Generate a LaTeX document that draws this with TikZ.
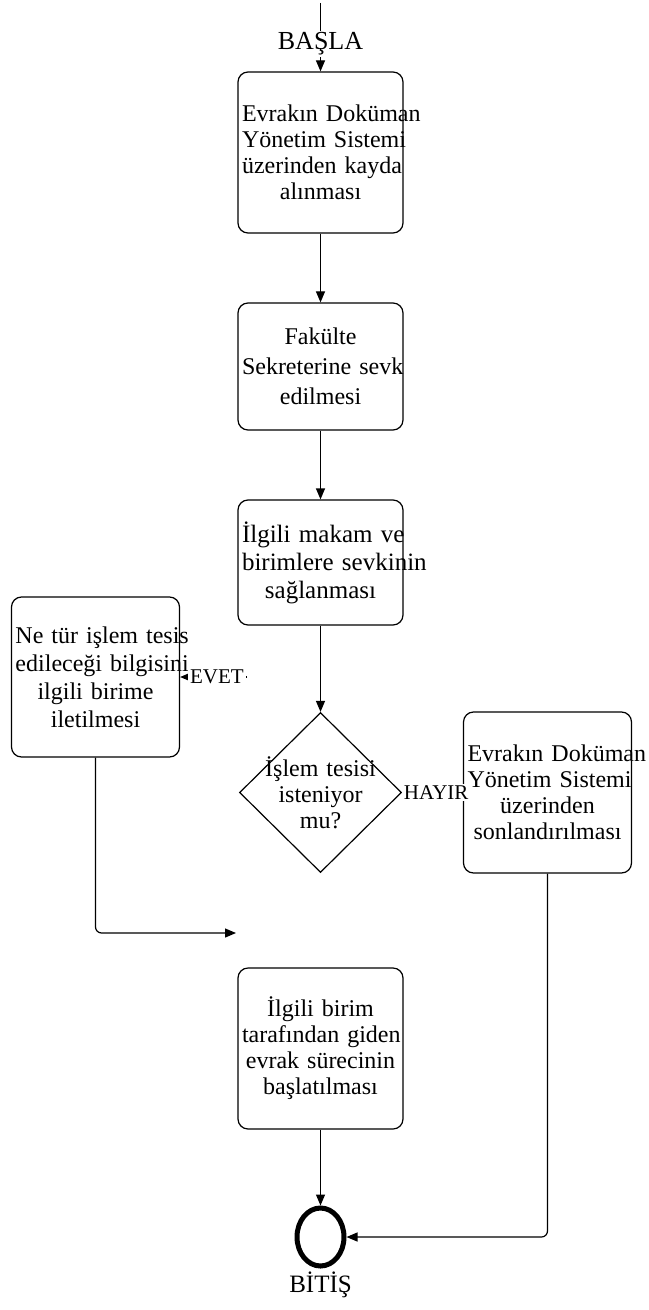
\documentclass[tikz,border=0pt]{standalone}
\usepackage{fontspec}
\setmainfont{Liberation Serif}
\usetikzlibrary{shapes.geometric,arrows.meta,positioning}
\hyphenpenalty=10000
\exhyphenpenalty=10000
\tikzstyle{process} = [rectangle, rounded corners=5pt, text width=78.5pt, inner xsep=2pt, align=center, draw=black, line width=0.6pt, font=\fontsize{12}{13}\selectfont]
\tikzstyle{decision} = [diamond, aspect=1, minimum width=81pt, minimum height=80pt, text width=56pt, inner sep=-4pt, align=center, draw=black, line width=0.6pt, font=\fontsize{12}{13}\selectfont]
\tikzstyle{stop} = [ellipse, minimum width=23.5pt, minimum height=29pt, draw=black, line width=2.5pt]
\tikzstyle{answer} = [fill=white, inner sep=1pt, font=\fontsize{10.5}{12}\selectfont]
\tikzstyle{arrow} = [line width=0.6pt,->,>={Triangle[length=5.5pt,width=4.5pt]}]

\begin{document}
\begin{tikzpicture}[node distance=100pt]
\useasboundingbox (0,0) rectangle (324pt,-655pt);

\node (box1) [process, minimum height=80.5pt] at (160.25pt,-76.25pt) {Evrakın~Doküman\\ Yönetim~Sistemi\\ üzerinden~kayda\\ alınması};

\node (box2) [process, below of=box1, node distance=107pt, minimum height=63.5pt, font=\fontsize{12}{15}\selectfont] {Fakülte\\ Sekreterine~sevk\\ edilmesi};

\node (box3) [process, below of=box2, node distance=98pt, minimum height=62.5pt, font=\fontsize{12.5}{14}\selectfont] {İlgili~makam~ve\\ birimlere~sevkinin\\ sağlanması};

\node (dec) [decision, below of=box3, node distance=115pt] {İşlem~tesisi\\ isteniyor\\ mu?};

\node (leftbox) [process, left of=dec, node distance=112.5pt, yshift=57.75pt, text width=80pt, minimum height=80pt, font=\fontsize{12}{14}\selectfont] {Ne~tür~işlem~tesis\\ edileceği~bilgisini\\ ilgili~birime\\ iletilmesi};

\node (rightbox) [process, right of=dec, node distance=113.5pt, text width=80pt, minimum height=80.5pt] {Evrakın~Doküman\\ Yönetim~Sistemi\\ üzerinden\\ sonlandırılması};

\node (box4) [process, below of=dec, node distance=128pt, minimum height=80.5pt] {İlgili~birim\\ tarafından~giden\\ evrak~sürecinin\\ başlatılması};

\node (end) [stop, below of=box4, node distance=94.25pt] {};
\node (endtext) [below of=end, node distance=24pt, font=\fontsize{12.5}{14}\selectfont] {BİTİŞ};

\coordinate (top) at (160.25pt,-1.5pt);
\coordinate (evetstart) at (123.5pt,-338.5pt);
\coordinate (yesend) at (118pt,-466.5pt);

\draw [arrow] (top) -- node[pos=0.6, fill=white, inner sep=1pt, font=\fontsize{13}{15}\selectfont] (startlbl) {BAŞLA} (box1);
\draw [arrow] (box1) -- (box2);
\draw [arrow] (box2) -- (box3);
\draw [arrow] (box3) -- (dec);
\draw [arrow] (evetstart) -- node[answer, pos=0.45] (evet) {EVET} (leftbox);
\draw [arrow] (dec) -- node[answer, pos=0.56] (hayir) {HAYIR} (rightbox);
\draw [arrow, rounded corners=3pt] (leftbox) |- (yesend);
\draw [arrow] (box4) -- (end);
\draw [arrow, rounded corners=3pt] (rightbox) |- (end);
\end{tikzpicture}
\end{document}
